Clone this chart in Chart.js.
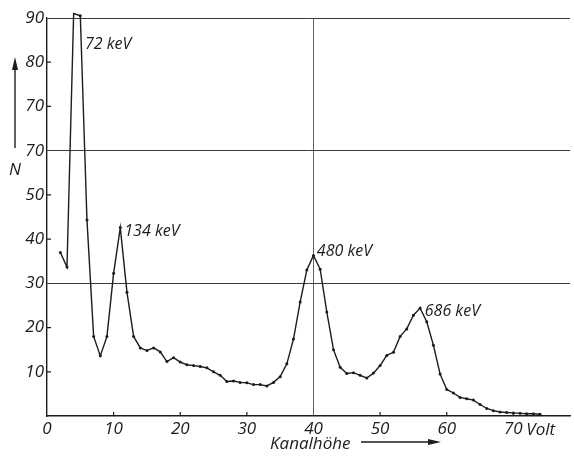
<!DOCTYPE html>
<html>
<head>
<meta charset="utf-8">
<script src="https://cdn.jsdelivr.net/npm/chart.js@4"></script>
<style>
  html, body { margin: 0; padding: 0; background: #fff; }
  #wrap { width: 574px; height: 456px; }
</style>
</head>
<body>
<div id="wrap"><canvas id="spectrum"></canvas></div>
<script>
// channel (Volt) and counts N
const channels = [2, 3, 4, 5, 6, 7, 8, 9, 10, 11, 12, 13, 14, 15, 16, 17, 18, 19, 20,
  21, 22, 23, 24, 25, 26, 27, 28, 29, 30, 31, 32, 33, 34, 35, 36, 37, 38, 39, 40,
  41, 42, 43, 44, 45, 46, 47, 48, 49, 50, 51, 52, 53, 54, 55, 56, 57, 58, 59, 60,
  61, 62, 63, 64, 65, 66, 67, 68, 69, 70, 71, 72, 73, 74];
const counts = [37, 33.7, 91, 90.5, 44.3, 18, 13.6, 18, 32.3, 42.6, 28, 18, 15.4, 14.8, 15.4, 14.5, 12.3, 13.2, 12.2,
  11.6, 11.4, 11.2, 10.9, 10, 9.2, 7.8, 7.9, 7.6, 7.5, 7.1, 7.1, 6.8, 7.6, 8.9, 11.8, 17.4, 25.8, 33, 36.3,
  33.2, 23.5, 15, 11, 9.6, 9.8, 9.2, 8.6, 9.7, 11.4, 13.7, 14.4, 18, 19.7, 22.8, 24.4, 21.3, 16, 9.5, 6,
  5.2, 4.2, 3.9, 3.6, 2.6, 1.7, 1.2, 0.9, 0.8, 0.7, 0.6, 0.5, 0.5, 0.4];

const xTicks = [0, 10, 20, 30, 40, 50, 60, 70];
const xTickLabels = ['0', '10', '20', '30', '40', '50', '60', '70'];
const yTicks = [10, 20, 30, 40, 50, 60, 70, 80, 90];
const yTickLabels = ['10', '20', '30', '40', '50', '70', '70', '80', '90'];  // as printed
const gridY = [30, 60, 90];
const gridX = [40];

const peakNames = ['72 keV', '134 keV', '480 keV', '686 keV'];
const peakNameX = [5.7, 11.6, 40.5, 56.7];
const peakNameY = [83, 40.7, 36.2, 22.6];

const ink = '#1c1c1c';
const gridInk = '#3a3a3a';
const font = '"Open Sans", "DejaVu Sans", sans-serif';

function arrow(ctx, x1, y1, x2, y2) {
  const a = Math.atan2(y2 - y1, x2 - x1);
  ctx.beginPath();
  ctx.moveTo(x1, y1);
  ctx.lineTo(x2 - 8 * Math.cos(a), y2 - 8 * Math.sin(a));
  ctx.stroke();
  ctx.beginPath();
  ctx.moveTo(x2, y2);
  ctx.lineTo(x2 - 13 * Math.cos(a) + 3 * Math.sin(a), y2 - 13 * Math.sin(a) - 3 * Math.cos(a));
  ctx.lineTo(x2 - 13 * Math.cos(a) - 3 * Math.sin(a), y2 - 13 * Math.sin(a) + 3 * Math.cos(a));
  ctx.closePath();
  ctx.fill();
}

// inward tick marks, peak names, axis names with arrows
const decor = {
  id: 'decor',
  afterDraw(chart) {
    const { ctx, scales: { x, y } } = chart;
    ctx.save();
    ctx.strokeStyle = ink;
    ctx.fillStyle = ink;
    ctx.lineWidth = 1.2;
    ctx.beginPath();
    xTicks.forEach(v => {
      if (v === 0 || gridX.includes(v)) return;
      const px = x.getPixelForValue(v);
      ctx.moveTo(px, y.bottom);
      ctx.lineTo(px, y.bottom - 4);
    });
    yTicks.forEach(v => {
      if (gridY.includes(v)) return;
      const py = y.getPixelForValue(v);
      ctx.moveTo(x.left, py);
      ctx.lineTo(x.left + 4, py);
    });
    ctx.stroke();

    ctx.font = 'italic 16px ' + font;
    ctx.textAlign = 'left';
    ctx.textBaseline = 'alphabetic';
    peakNames.forEach((t, i) => {
      ctx.fillText(t, x.getPixelForValue(peakNameX[i]), y.getPixelForValue(peakNameY[i]));
    });

    ctx.font = 'italic 17px ' + font;
    ctx.fillText('Volt', x.getPixelForValue(70) + 13, y.bottom + 19);
    ctx.fillText('Kanalhöhe', 270, 449);
    ctx.lineWidth = 1.4;
    arrow(ctx, 361, 442, 441, 442);

    ctx.textAlign = 'center';
    ctx.fillText('N', 15, 175);
    arrow(ctx, 15, 148, 15, 57);
    ctx.restore();
  }
};

new Chart(document.getElementById('spectrum'), {
  type: 'line',
  data: {
    datasets: [{
      data: channels.map((c, i) => ({ x: c, y: counts[i] })),
      borderColor: ink,
      borderWidth: 1.4,
      pointRadius: 1.5,
      pointBackgroundColor: ink,
      pointBorderWidth: 0,
      tension: 0,
      clip: false
    }]
  },
  options: {
    responsive: true,
    maintainAspectRatio: false,
    animation: false,
    layout: { padding: { top: 18, right: 0, left: 0, bottom: 0 } },
    plugins: { legend: { display: false }, tooltip: { enabled: false } },
    scales: {
      x: {
        type: 'linear',
        min: 0,
        max: 78.5,
        afterBuildTicks: s => { s.ticks = xTicks.map(v => ({ value: v })); },
        afterFit: s => { s.height = 40; },
        grid: {
          drawTicks: false,
          lineWidth: 0.8,
          color: c => gridX.includes(c.tick.value) ? gridInk : 'rgba(0,0,0,0)'
        },
        border: { display: true, color: ink, width: 1.4 },
        ticks: {
          padding: 3,
          color: ink,
          font: { family: font, size: 17, style: 'italic' },
          maxRotation: 0,
          callback: v => xTickLabels[xTicks.indexOf(v)]
        }
      },
      y: {
        min: 0,
        max: 90,
        afterBuildTicks: s => { s.ticks = yTicks.map(v => ({ value: v })); },
        afterFit: s => { s.width = 47; },
        grid: {
          drawTicks: false,
          lineWidth: 1,
          color: c => gridY.includes(c.tick.value) ? gridInk : 'rgba(0,0,0,0)'
        },
        border: { display: true, color: ink, width: 1.4 },
        ticks: {
          padding: 3,
          color: ink,
          font: { family: font, size: 17, style: 'italic' },
          callback: v => yTickLabels[yTicks.indexOf(v)]
        }
      }
    }
  },
  plugins: [decor]
});
</script>
</body>
</html>
